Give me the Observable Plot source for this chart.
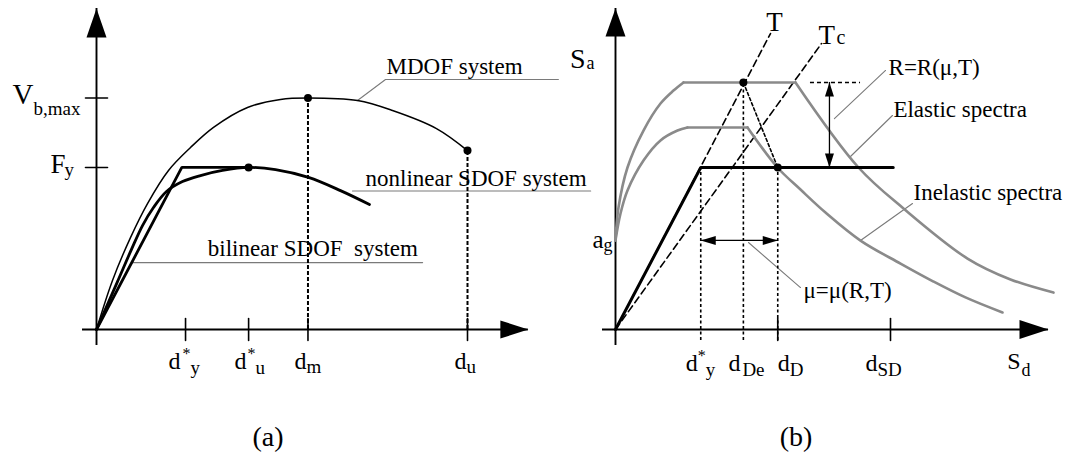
<!DOCTYPE html>
<html>
<head>
<meta charset="utf-8">
<script src="https://cdn.jsdelivr.net/npm/d3@7"></script>
<script src="https://cdn.jsdelivr.net/npm/@observablehq/plot@0.6"></script>
<style>
  html, body { margin: 0; padding: 0; background: #fff; }
  #fig { position: relative; width: 1068px; height: 462px; overflow: hidden;
         font-family: 'Liberation Serif', serif; }
  #fig svg { position: absolute; top: 0; }
  #fig svg text { font-family: 'Liberation Serif', serif !important; }
  .cap { position: absolute; top: 423px; font-size: 28px; line-height: 28px;
         transform: translateX(-50%); color: #000; font-family: 'Liberation Serif', serif; }
</style>
</head>
<body>
<div id="fig">
  <div class="cap" style="left:268px">(a)</div>
  <div class="cap" style="left:796px">(b)</div>
</div>
<script>
// ---------------- (a) capacity curves: base shear vs. top displacement ----------------
const dyStarA = 2.4, duStarA = 4.1, dmA = 5.7, duA = 10;      // displacement markers
const vbMax = 1.0, fyA = 0.70, duForce = 0.773;                 // force levels
const mdofCurve = [[0,0],[0.431,0.212],[0.916,0.397],[1.375,0.544],[1.941,0.687],[2.534,0.786],
  [3.154,0.873],[4.07,0.959],[4.96,0.994],[5.714,1.0],[7.035,0.989],[7.978,0.946],[9.164,0.868],[10,0.773]];
const sdofNonlinear = [[0,0],[0.566,0.207],[0.943,0.346],[1.24,0.449],[1.536,0.527],[1.887,0.596],
  [2.318,0.639],[2.803,0.665],[3.396,0.687],[4.097,0.7],[4.825,0.691],[5.714,0.657],[6.577,0.6],[7.358,0.54]];
const sdofBilinear = [[0,0],[2.3,fyA],[duStarA,fyA]];
const xTicksA = [dyStarA, duStarA, dmA, duA];
const yTicksA = [vbMax, fyA];
const peakPointsA = [[duStarA, fyA],[dmA, vbMax],[duA, duForce]];
const mdofLeader = [[7.035,0.989],[7.79,1.08],[12.45,1.08]];
const nonlinearLeader = [[6.9,0.598],[13.32,0.598]];
const bilinearLeader = [[0.95,0.289],[8.79,0.289]];
const captionsA = ["MDOF system", "nonlinear SDOF system", "bilinear SDOF\u00a0 system"];
const xTickNamesA = [["d","*","y"],["d","*","u"],["d","","m"],["d","","u"]];

// ---------------- (b) spectra in acceleration-displacement format ----------------
const dyStarB = 3.1, dDeB = 4.65, dDB = 5.9, dSDB = 10;
const agB = 0.55, saYield = 1.0, saElastic = 1.525, saInelastic = 1.247;
const elasticRise = [[0,agB],[0.109,0.753],[0.436,1.0],[1.018,1.228],[1.636,1.395],[2.109,1.475],[2.473,saElastic]];
const elasticPlateau = [[2.473,saElastic],[6.545,saElastic]];
const elasticFall = [[6.545,saElastic],[8.836,1.0],[10.473,0.747],[12.8,0.438],[14.364,0.309],[15.927,0.228]];
const inelasticRise = [[0,agB],[0.182,0.716],[0.436,0.858],[1.018,1.043],[1.636,1.167],[2.255,1.228],[2.618,saInelastic]];
const inelasticPlateau = [[2.618,saInelastic],[4.8,saInelastic]];
const inelasticFall = [[4.8,saInelastic],[5.891,1.0],[6.727,0.864],[7.636,0.722],[8.909,0.549],[10.364,0.407],
  [11.564,0.296],[12.727,0.198],[14.073,0.105]];
const bilinearB = [[0,0],[dyStarB,saYield],[10.1,saYield]];
const periodT = [[0,0],[5.636,1.827]];
const periodTc = [[0,0],[7.49,1.765]];
const rArrowX = 7.78, muArrowY = 0.55;
const rLeader = [[7.96,1.302],[9.82,1.599]];
const elasticLeader = [[8.545,1.068],[10.07,1.321]];
const inelasticLeader = [[8.909,0.549],[10.8,0.778]];
const muLeader = [[4.836,0.537],[6.727,0.259]];
const xTickNamesB = [["d","*","y"],["d","","De"],["d","","D"],["d","","SD"]];
const xTicksB = [dyStarB, dDeB, dDB, dSDB];

// ---------------- layout ----------------
const panelW = 534, panelH = 410;
const FONT = "'Liberation Serif', serif";
const INK = "#000", SPEC = "#8a8a8a", LEAD = "#7a7a7a";
const NOTE = 23;   // annotation text size

const headShape = { draw(ctx, l, r) { ctx.moveTo(-r, 0); ctx.lineTo(0, -l); ctx.lineTo(r, 0); ctx.closePath(); } };
const tickShape = { draw(ctx, l) { ctx.moveTo(0, 0); ctx.lineTo(0, -l); } };

function frame(origin, unit) {
  return {
    x: {domain: [-origin[0] / unit[0], (panelW - origin[0]) / unit[0]], axis: null},
    y: {domain: [(origin[1] - panelH) / unit[1], origin[1] / unit[1]], axis: null}
  };
}
function head(points, rotate, length, r) {
  return Plot.vector(points, {x: d => d[0], y: d => d[1], rotate, length, r, anchor: "end",
    shape: headShape, fill: INK, stroke: "none"});
}
function ticks(values, horizontal) {
  return Plot.vector(values, {x: horizontal ? 0 : d => d, y: horizontal ? d => d : 0,
    rotate: horizontal ? 90 : 0, length: 22, anchor: "middle", shape: tickShape, stroke: INK, strokeWidth: 1.6});
}
function label(x, y, text, size, dx = 0, dy = 0, anchor = "start") {
  return Plot.text([{x, y, text}], {x: "x", y: "y", text: "text", fontSize: size, textAnchor: anchor,
    lineAnchor: "bottom", dx, dy, fill: INK, fontFamily: FONT});
}
function render(origin, unit, marks, left) {
  const svg = Plot.plot({width: panelW, height: panelH, margin: 0, ...frame(origin, unit),
    style: {fontFamily: FONT, background: "transparent", overflow: "visible"}, marks});
  svg.style.left = left + "px";
  document.getElementById("fig").appendChild(svg);
}

// ---- panel (a) ----
const axisA = {x0: -0.377, x1: 11.64, y0: -0.069, y1: 1.387};
const nudgeA = [{d: -5, sup: -3, sub: 5, subDy: 44}, {d: -2, sup: -1, sub: 7, subDy: 44},
                {d: -1.5, sub: -1.5, subDy: 43}, {d: -1, sub: -1, subDy: 43}];
render([96, 329], [37.1, 231.5], [
  Plot.line(mdofLeader, {stroke: LEAD, strokeWidth: 1.1}),
  Plot.line(nonlinearLeader, {stroke: LEAD, strokeWidth: 1.1}),
  Plot.line(bilinearLeader, {stroke: LEAD, strokeWidth: 1.1}),
  Plot.ruleX([dmA], {y1: 0, y2: vbMax, stroke: INK, strokeWidth: 2, strokeDasharray: "4,2"}),
  Plot.ruleX([duA], {y1: 0, y2: duForce, stroke: INK, strokeWidth: 2, strokeDasharray: "4,2"}),
  Plot.ruleY([0], {x1: axisA.x0, x2: axisA.x1, stroke: INK, strokeWidth: 1.9}),
  Plot.ruleX([0], {y1: axisA.y0, y2: axisA.y1, stroke: INK, strokeWidth: 1.9}),
  head([[0, axisA.y1]], 0, 29, 10),
  head([[axisA.x1, 0]], 90, 28, 9),
  ticks(xTicksA, false),
  ticks(yTicksA, true),
  Plot.line(mdofCurve, {curve: "catmull-rom", stroke: INK, strokeWidth: 1.5}),
  Plot.line(sdofNonlinear, {curve: "catmull-rom", stroke: INK, strokeWidth: 2.8}),
  Plot.line(sdofBilinear, {stroke: INK, strokeWidth: 2.8, strokeLinejoin: "miter"}),
  Plot.dot(peakPointsA, {r: 4, fill: INK, stroke: "none"}),
  label(mdofLeader[1][0], mdofLeader[1][1], captionsA[0], NOTE, 1, -5),
  label(nonlinearLeader[0][0], nonlinearLeader[0][1], captionsA[1], NOTE, 13, -5.5),
  label(bilinearLeader[0][0], bilinearLeader[0][1], captionsA[2], NOTE, 76, -7),
  label(0, vbMax, "V", 29, -63, 5.5, "end"),
  label(0, vbMax, "b,max", 19, -63, 16.5),
  label(0, fyA, "F", 27, -31, 6, "end"),
  label(0, fyA, "y", 19, -32, 9),
  ...xTicksA.flatMap((x, i) => {
    const [b, sup, sub] = xTickNamesA[i], n = nudgeA[i];
    return [label(x, 0, b, 24, n.d, 39, "end"),
            ...(sup ? [label(x, 0, sup, 16, n.sup, 29)] : []),
            label(x, 0, sub, 19, n.sub, n.subDy)];
  })
], 0);

// ---- panel (b) ----
const axisB = {x0: -0.473, x1: 15.745, y0: -0.099, y1: 1.981};
const dropEnd = -0.068;
const nudgeB = [{d: -3, sup: -3, sub: 5}, {d: -3, sub: -1}, {d: 12, sub: 12}, {d: -13, sub: -13}];
render([81, 329], [27.5, 162], [
  Plot.line(rLeader, {stroke: LEAD, strokeWidth: 1.1}),
  Plot.line(elasticLeader, {stroke: LEAD, strokeWidth: 1.1}),
  Plot.line(inelasticLeader, {stroke: LEAD, strokeWidth: 1.1}),
  Plot.line(muLeader, {stroke: LEAD, strokeWidth: 1.1}),
  Plot.line(periodT, {stroke: INK, strokeWidth: 1.6, strokeDasharray: "7,4"}),
  Plot.line(periodTc, {stroke: INK, strokeWidth: 1.6, strokeDasharray: "7,4"}),
  Plot.ruleX([dyStarB], {y1: dropEnd, y2: saYield, stroke: INK, strokeWidth: 1.6, strokeDasharray: "3,2.5"}),
  Plot.ruleX([dDeB], {y1: dropEnd, y2: saElastic, stroke: INK, strokeWidth: 1.6, strokeDasharray: "3,2.5"}),
  Plot.ruleX([dDB], {y1: dropEnd, y2: saYield, stroke: INK, strokeWidth: 1.6, strokeDasharray: "3,2.5"}),
  Plot.line([[dDeB, saElastic], [dDB, saYield]], {stroke: INK, strokeWidth: 1.6, strokeDasharray: "3,2.5"}),
  Plot.ruleY([saElastic], {x1: 7.09, x2: 8.91, stroke: INK, strokeWidth: 1.5, strokeDasharray: "4,3"}),
  Plot.ruleY([0], {x1: axisB.x0, x2: axisB.x1, stroke: INK, strokeWidth: 1.9}),
  Plot.ruleX([0], {y1: axisB.y0, y2: axisB.y1, stroke: INK, strokeWidth: 1.9}),
  head([[0, axisB.y1]], 0, 28, 10),
  head([[axisB.x1, 0]], 90, 29, 9.5),
  ticks([dDB, dSDB], false),
  Plot.line(elasticRise, {curve: "catmull-rom", stroke: SPEC, strokeWidth: 2.6}),
  Plot.line(elasticPlateau, {stroke: SPEC, strokeWidth: 2.6}),
  Plot.line(elasticFall, {curve: "catmull-rom", stroke: SPEC, strokeWidth: 2.6}),
  Plot.line(inelasticRise, {curve: "catmull-rom", stroke: SPEC, strokeWidth: 2.6}),
  Plot.line(inelasticPlateau, {stroke: SPEC, strokeWidth: 2.6}),
  Plot.line(inelasticFall, {curve: "catmull-rom", stroke: SPEC, strokeWidth: 2.6}),
  Plot.line(bilinearB, {stroke: INK, strokeWidth: 3, strokeLinejoin: "miter"}),
  Plot.ruleX([rArrowX], {y1: saYield, y2: saElastic, stroke: INK, strokeWidth: 1.3}),
  head([[rArrowX, saElastic]], 0, 14, 4.5),
  head([[rArrowX, saYield]], 180, 14, 4.5),
  Plot.ruleY([muArrowY], {x1: dyStarB, x2: dDB, stroke: INK, strokeWidth: 1.3}),
  head([[dyStarB, muArrowY]], -90, 15, 4.5),
  head([[dDB, muArrowY]], 90, 15, 4.5),
  Plot.dot([[dDeB, saElastic], [dDB, saYield]], {r: 4, fill: INK, stroke: "none"}),
  label(rLeader[1][0], rLeader[1][1], "R=R(μ,T)", NOTE, 3, 5),
  label(elasticLeader[1][0], elasticLeader[1][1], "Elastic spectra", NOTE, 1, 2),
  label(inelasticLeader[1][0], inelasticLeader[1][1], "Inelastic spectra", NOTE, 1, -3),
  label(muLeader[1][0], muLeader[1][1], "μ=μ(R,T)", NOTE, 3, 10),
  label(periodT[1][0], periodT[1][1], "T", 27, 4, -3, "middle"),
  label(periodTc[1][0], periodTc[1][1], "T", 27, -3, 0),
  label(periodTc[1][0], periodTc[1][1], "c", 20, 15, 0),
  label(0, 1.617, "S", 28, -30, 0, "end"),
  label(0, 1.617, "a", 18, -29, 1),
  label(0, agB, "a", 25, -12, 8, "end"),
  label(0, agB, "g", 18, -12, 11),
  label(axisB.x1, 0, "S", 24, -28, 39, "end"),
  label(axisB.x1, 0, "d", 18, -27, 46),
  ...xTicksB.flatMap((x, i) => {
    const [b, sup, sub] = xTickNamesB[i], n = nudgeB[i];
    return [label(x, 0, b, 24, n.d, 41, "end"),
            ...(sup ? [label(x, 0, sup, 16, n.sup, 31)] : []),
            label(x, 0, sub, 19, n.sub, 46)];
  })
], panelW);
</script>
</body>
</html>
